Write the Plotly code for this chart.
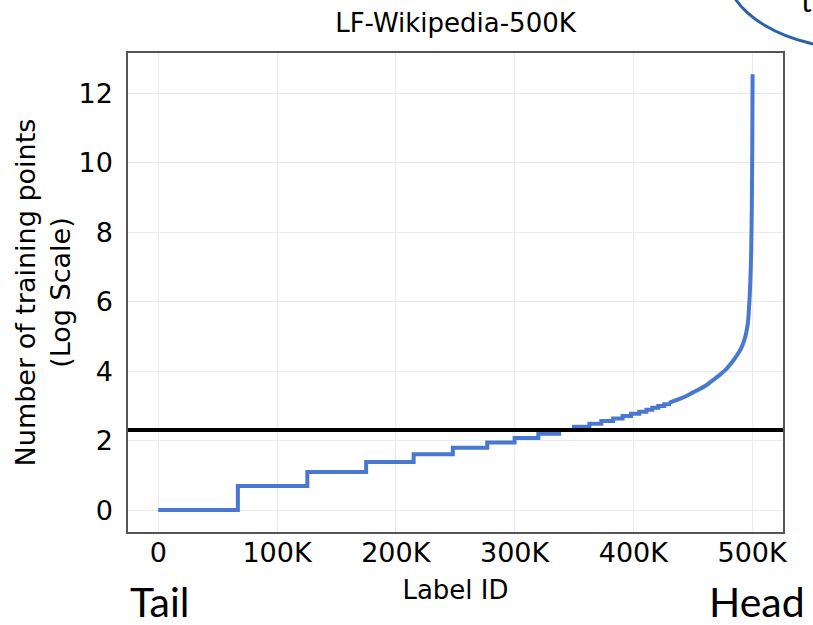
import plotly.graph_objects as go

# ---- data (label id, natural log of training-point count) ----
step_label_id = [0, 67000, 125500, 175000, 215000, 248000, 277000, 300000, 320000,
                 337500, 350000, 363000, 373000, 383000, 391000, 398000, 405000,
                 411000, 416000, 421000, 426000, 430000]
step_log_count = [0.0, 0.693, 1.099, 1.386, 1.609, 1.792, 1.946, 2.079, 2.197,
                  2.303, 2.398, 2.485, 2.565, 2.639, 2.708, 2.773, 2.833,
                  2.890, 2.944, 2.996, 3.045, 3.091]

curve_label_id = [430000, 439000, 447000, 455000, 462000, 467000, 473000, 478000,
                  481000, 484000, 487000, 489000, 491000, 493000, 495000, 496500,
                  497700, 498500, 499200, 499700, 500100, 500400]
curve_log_count = [3.09, 3.20, 3.33, 3.47, 3.61, 3.74, 3.90, 4.05,
                   4.17, 4.30, 4.45, 4.55, 4.68, 4.85, 5.10, 5.40,
                   6.00, 6.60, 7.40, 8.60, 10.30, 12.55]

threshold = 2.303  # ln(10)

x_tickvals = [0, 100000, 200000, 300000, 400000, 500000]
x_ticktext = ["0", "100K", "200K", "300K", "400K", "500K"]
y_tickvals = [0, 2, 4, 6, 8, 10, 12]

title_text = "LF-Wikipedia-500K"
x_title = "Label ID"
y_title = "Number of training points<br>(Log Scale)"

# ---- figure ----
W, H = 813, 625
ML, MR, MT, MB = 128, 30, 53, 93
PW, PH = W - ML - MR, H - MT - MB

def px_x(p):
    return (p - ML) / PW

def px_y(p):
    return (H - MB - p) / PH

BLUE = "#4878d0"
FONT = "DejaVu Sans"

fig = go.Figure()
fig.add_trace(go.Scatter(x=step_label_id, y=step_log_count, mode="lines",
                         line=dict(color=BLUE, width=4, shape="hv"),
                         showlegend=False, hoverinfo="skip"))
fig.add_trace(go.Scatter(x=curve_label_id, y=curve_log_count, mode="lines",
                         line=dict(color=BLUE, width=4, shape="spline", smoothing=0.6),
                         showlegend=False, hoverinfo="skip"))
fig.add_hline(y=threshold, line=dict(color="black", width=4), layer="above")

fig.update_layout(
    width=W, height=H,
    margin=dict(l=ML, r=MR, t=MT, b=MB, autoexpand=False),
    paper_bgcolor="white", plot_bgcolor="white",
    font=dict(family=FONT, color="black", size=27),
    title=dict(text=title_text, x=px_x(455.5), xref="paper", xanchor="center",
               y=1 - 22.5 / H, yref="container", yanchor="middle",
               font=dict(family=FONT, size=26, color="black")),
    showlegend=False,
)
fig.update_xaxes(range=[-25500, 526000], tickvals=x_tickvals, ticktext=x_ticktext,
                 showgrid=True, gridcolor="#ebebeb", gridwidth=1, zeroline=False,
                 showline=True, mirror=True, linecolor="#555555", linewidth=1.5,
                 ticks="", ticklabelstandoff=-4,
                 tickfont=dict(family=FONT, size=27, color="black"),
                 title=dict(text=x_title, standoff=14,
                            font=dict(family=FONT, size=26, color="black")),
                 automargin=False)
fig.update_yaxes(range=[-0.63, 13.16], tickvals=y_tickvals,
                 showgrid=True, gridcolor="#ebebeb", gridwidth=1, zeroline=False,
                 showline=True, mirror=True, linecolor="#555555", linewidth=1.5,
                 ticks="", ticklabelstandoff=8,
                 tickfont=dict(family=FONT, size=27, color="black"),
                 title=dict(text=y_title, standoff=0,
                            font=dict(family=FONT, size=27, color="black")),
                 automargin=False)

# Slide decorations: ellipse callout, Tail / Head labels
fig.add_shape(type="circle", xref="paper", yref="paper",
              x0=px_x(725), x1=px_x(995), y0=px_y(49), y1=px_y(-113),
              line=dict(color="#2a62a6", width=3), fillcolor="rgba(0,0,0,0)")
fig.add_annotation(text="the", xref="paper", yref="paper", x=px_x(799), y=px_y(-20),
                   xanchor="left", yanchor="top", showarrow=False,
                   font=dict(family="Lato", size=30, color="black"))
fig.add_annotation(text="Tail", xref="paper", yref="paper", x=px_x(128), y=px_y(601),
                   xanchor="left", yanchor="middle", showarrow=False,
                   font=dict(family="Lato", size=41, color="black"))
fig.add_annotation(text="Head", xref="paper", yref="paper", x=px_x(807), y=px_y(601),
                   xanchor="right", yanchor="middle", showarrow=False,
                   font=dict(family="Lato", size=41, color="black"))

fig.write_html("out.html", config={"displayModeBar": False},
               post_script="document.body.style.margin='0';")
